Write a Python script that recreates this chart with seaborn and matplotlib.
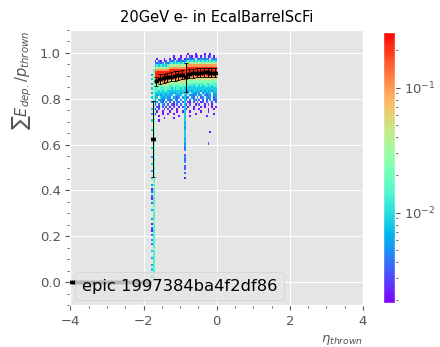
import numpy as np
import pandas as pd
import matplotlib
matplotlib.use("Agg")
import matplotlib.pyplot as plt
import seaborn as sns
from matplotlib.colors import LogNorm
from matplotlib.lines import Line2D
from matplotlib.ticker import MultipleLocator

plt.style.use('ggplot')

# 2D histogram: eta bins of 0.05 starting at -1.80, energy-ratio bins of 0.01
ETA_START = -1.80
ETA_BIN = 0.05
E_BIN = 0.01
VMIN, VMAX = 0.0019, 0.28

# cell level -> bin content
LEVEL_VALUES = [0.0, 0.0022, 0.0035, 0.0055, 0.0085, 0.014, 0.025, 0.05, 0.10, 0.22]

# band rows, from E=0.99 down to E=0.70 (one char per eta bin, '.' = empty)
BAND_TOP = 0.99
BAND_ROWS = [
    ".." + "........" + "........." + ".1...1....1..1...",
    ".." + "........" + "..1...1.." + "1.21.12.1.2.12.1.",
    ".." + ".1...1.." + "1.21.12.1" + "32323.3233232.323",
    ".." + "1.21.12." + "323.32323" + "45454545454545454",
    ".." + "32323.32" + "454545454" + "76767676767676767",
    ".." + "45454545" + "767676767" + "88888888888888888",
    ".." + "76767676" + "888888888" + "99999999999999999",
    ".5" + "88888888" + "999999999" + "99999999999999999",
    ".6" + "99999999" + "999999999" + "99999999999999999",
    "36" + "99999999" + "999999999" + "89898989898989898",
    ".7" + "99999999" + "898989898" + "88888888888888888",
    "46" + "89898989" + "888888888" + "77777777777777777",
    ".6" + "88888888" + "777777777" + "66666666666666666",
    "36" + "77777777" + "666666666" + "55655565556555655",
    ".6" + "66666666" + "556555655" + "55454554545545455",
    "46" + "55655565" + "545455454" + "44444444444444444",
    ".6" + "55454554" + "444444444" + "43434434343434344",
    "36" + "44444444" + "434344343" + "34.43343.34334.34",
    ".6" + "43434434" + "34.4334.3" + "3.3323.33.3233.33",
    "46" + "34.43343" + "3.3323.33" + "23.32.3.23.323.23",
    ".6" + "3.3323.3" + "23.32.3.2" + "2.2.32.2.2.2.3.22",
    "36" + "23.32.3." + "2.2.32.2." + ".21.2.2.12.2..2.2",
    ".6" + "2.2.32.2" + ".21.2.2.1" + "1.2..1.2..1.2.1..",
    ".6" + ".21.2.2." + "1.2..1.2." + ".1..1...1.1...1.1",
    "46" + "1.2..1.2" + ".1..1...1" + "1...1..1....1..1.",
    ".6" + ".1..1..." + "1...1..1." + "..1.....1...1....",
    "36" + "1...1..1" + "..1.....1" + ".....1.........1.",
    ".6" + "..1....." + ".....1..." + "..1........1.....",
    ".6" + ".....1.." + "..1......" + ".................",
    "46" + "..1....." + "........." + ".................",
]

# stripe at eta ~ -1.75, from E=0.00 up to E=0.69
LEFT_STRIPE_MAIN = ("5555555555" "5555655555" "5555556555" "5565555655"
                    "5656566565" "6565656566" "6666666666")
LEFT_STRIPE_SIDE = ("..3..4.3.." "3..4..2.3." "2.12.1.3.." ".3..2.12.2"
                    "1.3..4..3." ".4..3...4." "..3...4...")

# stripe at eta ~ -0.87, from E=0.45 up to E=0.82
MID_STRIPE_START = 0.45
MID_STRIPE = "1.2.2" "2.3232.323" "3434444343" "4444444444" "444"

# isolated cells (eta, E, level)
LONE_ETA = [-0.175, -0.225]
LONE_E = [0.655, 0.605]
LONE_LEVEL = [1, 2]

# profile: mean and error per eta bin of 0.1
PROF_ETA = [-3.95, -3.85, -3.75, -3.65, -3.55, -3.45, -3.35, -3.25, -3.15, -3.05,
            -2.95, -2.85, -2.75, -2.65, -2.55, -2.45, -2.35, -2.25, -2.15, -2.05,
            -1.95, -1.85, -1.75, -1.65, -1.55, -1.45, -1.35, -1.25, -1.15, -1.05,
            -0.95, -0.85, -0.75, -0.65, -0.55, -0.45, -0.35, -0.25, -0.15, -0.05]
PROF_MEAN = [0.0] * 22 + [0.625, 0.876, 0.886, 0.889, 0.893, 0.896, 0.899, 0.902,
                          0.905, 0.893, 0.910, 0.912, 0.913, 0.914, 0.915, 0.915,
                          0.914, 0.913]
PROF_ERR = [0.0] * 22 + [0.166, 0.02, 0.02, 0.02, 0.02, 0.02, 0.02, 0.02,
                         0.02, 0.062, 0.02, 0.02, 0.02, 0.02, 0.02, 0.02,
                         0.02, 0.02]

TITLE = "20GeV e- in EcalBarrelScFi"
LEGEND_TEXT = "epic 1997384ba4f2df86"


def build_cells():
    cells = {}

    def put(col, row, level):
        if level <= 0:
            return
        key = (col, row)
        cells[key] = max(cells.get(key, 0), level)

    top_row = int(round(BAND_TOP / E_BIN))
    for i, line in enumerate(BAND_ROWS):
        for col, ch in enumerate(line):
            if ch != '.':
                put(col, top_row - i, int(ch))
    for row, ch in enumerate(LEFT_STRIPE_MAIN):
        if ch != '.':
            put(1, row, int(ch))
    for row, ch in enumerate(LEFT_STRIPE_SIDE):
        if ch != '.':
            put(0, row, int(ch))
    start = int(round(MID_STRIPE_START / E_BIN))
    for k, ch in enumerate(MID_STRIPE):
        if ch != '.':
            put(18, start + k, int(ch))
    for eta, e, lvl in zip(LONE_ETA, LONE_E, LONE_LEVEL):
        put(int((eta - ETA_START) / ETA_BIN), int(e / E_BIN), lvl)

    rows = []
    for (col, row), lvl in cells.items():
        rows.append({
            "eta": ETA_START + (col + 0.5) * ETA_BIN,
            "E": (row + 0.5) * E_BIN,
            "w": LEVEL_VALUES[lvl],
        })
    return pd.DataFrame(rows)


def main():
    df = build_cells()

    fig = plt.figure(figsize=(4.4, 3.47), dpi=100)
    ax = fig.add_axes([0.160, 0.121, 0.665, 0.7925])
    cax = fig.add_axes([0.870, 0.127, 0.027, 0.782])

    sns.histplot(data=df, x="eta", y="E", weights="w",
                 binwidth=(ETA_BIN, E_BIN),
                 binrange=((ETA_START, 0.0), (0.0, 1.0)),
                 cmap="rainbow", cbar=False, ax=ax)
    mesh = ax.collections[0]
    mesh.set_norm(LogNorm(vmin=VMIN, vmax=VMAX))

    ax.errorbar(PROF_ETA, PROF_MEAN, yerr=PROF_ERR, xerr=0.05,
                fmt='o', color='black', markersize=2.0, elinewidth=0.7,
                capsize=1.2, capthick=0.6, zorder=3)

    ax.set_xlim(-4, 4)
    ax.set_ylim(-0.1, 1.1)
    ax.xaxis.set_major_locator(MultipleLocator(2))
    ax.xaxis.set_minor_locator(MultipleLocator(0.5))
    ax.yaxis.set_major_locator(MultipleLocator(0.2))
    ax.yaxis.set_minor_locator(MultipleLocator(0.05))
    ax.tick_params(which='major', labelsize=9.5, length=3.5)
    ax.tick_params(which='minor', length=2)

    ax.set_title(TITLE, fontsize=10.5)
    ax.set_xlabel(r'$\eta_{thrown}$', loc='right', fontsize=9.5)
    ax.set_ylabel(r'$\sum E_{dep.}/p_{thrown}$', loc='top', fontsize=10.5)

    handle = Line2D([], [], alpha=0)
    ax.legend([handle], [LEGEND_TEXT], loc='lower left', fontsize=11.8,
              handlelength=0, handletextpad=0, borderaxespad=0.3)

    cb = fig.colorbar(mesh, cax=cax)
    cb.ax.grid(False)
    cb.ax.tick_params(labelsize=9.5)

    fig.savefig("out.png", dpi=100)


if __name__ == "__main__":
    main()
